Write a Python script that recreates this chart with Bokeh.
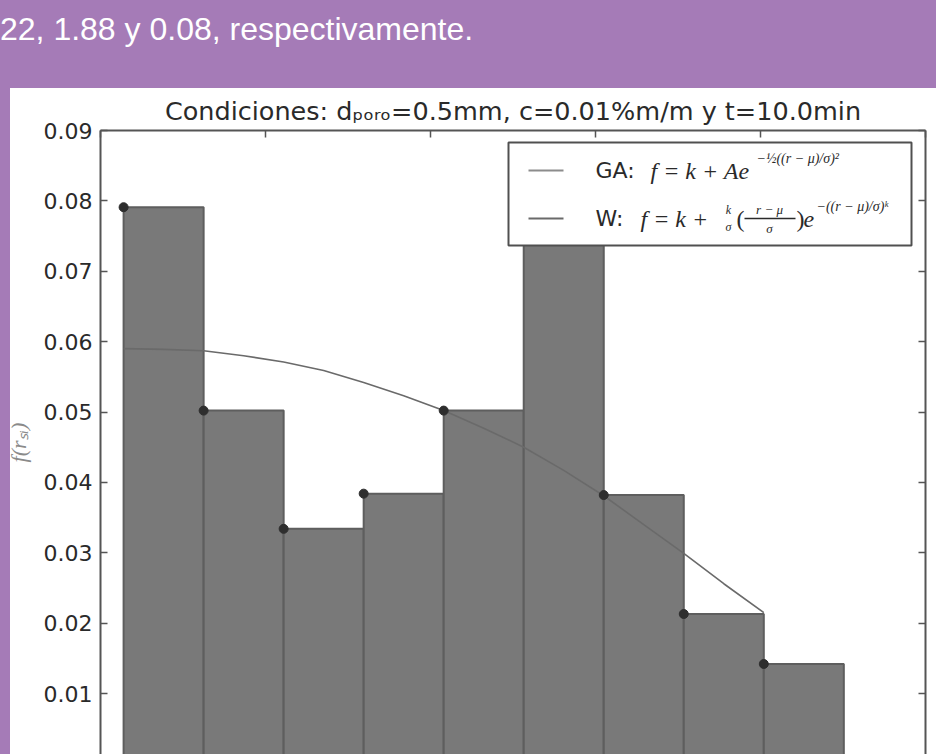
from bokeh.plotting import figure
from bokeh.models import Div, Label, LinearAxis, FixedTicker, Range1d
from bokeh.layouts import column
from bokeh.embed import file_html
from bokeh.resources import INLINE

# ---------------- data ----------------
bin_edges = [0.14, 0.625, 1.11, 1.595, 2.08, 2.565, 3.05, 3.535, 4.02, 4.505]
freq = [0.0791, 0.0502, 0.0334, 0.0384, 0.0502, 0.0800, 0.0382, 0.0213, 0.0142]
fit_r = [0.14, 0.3825, 0.625, 0.8675, 1.11, 1.3525, 1.595, 1.8375, 2.08,
         2.3225, 2.565, 2.8075, 3.05, 3.2925, 3.535, 3.7775, 4.02]
fit_f = [0.0590, 0.0589, 0.0587, 0.0580, 0.0571, 0.0559, 0.0542, 0.0523, 0.0502,
         0.0477, 0.0450, 0.0417, 0.0381, 0.0340, 0.0299, 0.0256, 0.0215]
y_ticks = [0.01, 0.02, 0.03, 0.04, 0.05, 0.06, 0.07, 0.08, 0.09]
x_ticks = [0, 1, 2, 3, 4, 5]

banner_text = "22, 1.88 y 0.08, respectivamente."
title_text = "Condiciones: dₚₒᵣₒ=0.5mm, c=0.01%m/m y t=10.0min"
y_label = "f(rₛᵢ)"

PURPLE = "#a57bb7"
TXT = "#2a2a2a"

# frame geometry helpers (reference pixels -> data), used only for the legend box
FX0, FX1 = 100.0, 925.0
X_PER_UNIT = (FX1 - FX0) / 5.0
Y0PX = 763.4
Y_PER_UNIT = 7037.5


def X(px):
    return (px - FX0) / X_PER_UNIT


def Y(py):
    return (Y0PX - py) / Y_PER_UNIT


# ---------------- banner ----------------
div = Div(
    text='<div style="white-space:nowrap;padding-top:11px">%s</div>' % banner_text,
    width=936, height=88, margin=(0, 0, 0, 0),
    styles={"background-color": PURPLE, "color": "#ffffff",
            "font-family": "'Liberation Sans', Arial, sans-serif",
            "font-size": "32px", "line-height": "1.15"},
)

# ---------------- chart ----------------
p = figure(width=936, height=666, x_range=Range1d(0, 5), y_range=Range1d(Y(754), 0.09),
           output_backend="svg", toolbar_location=None, x_axis_location=None,
           min_border_left=100, min_border_right=11, min_border_top=42, min_border_bottom=0)
p.margin = (0, 0, 0, 0)
p.styles = {"background": "linear-gradient(to right, %s 10px, #ffffff 10px)" % PURPLE}
p.outline_line_color = None
p.background_fill_color = "white"
p.border_fill_color = None
p.xgrid.visible = False
p.ygrid.visible = False

p.title.text = title_text
p.title.align = "center"
p.title.text_font = "DejaVu Sans"
p.title.text_font_size = "25.5px"
p.title.text_font_style = "normal"
p.title.text_color = TXT
p.title.standoff = 9

ya = p.yaxis[0]
ya.ticker = FixedTicker(ticks=y_ticks)
ya.major_label_text_font = "DejaVu Sans"
ya.major_label_text_font_size = "22px"
ya.major_label_text_color = TXT
ya.major_label_standoff = 8
ya.major_tick_in = 7
ya.major_tick_out = 0
ya.minor_tick_line_color = None
ya.major_tick_line_color = "#555555"
ya.major_tick_line_width = 1.5
ya.axis_line_color = "#555555"
ya.axis_line_width = 2
ya.axis_label = y_label
ya.axis_label_text_font = "Liberation Serif"
ya.axis_label_text_font_style = "italic"
ya.axis_label_text_font_size = "22px"
ya.axis_label_text_color = "#8a8a8a"
ya.axis_label_standoff = 10


def bare_axis(ticks):
    return LinearAxis(ticker=FixedTicker(ticks=ticks),
                      major_label_overrides={t: "" for t in ticks},
                      major_label_text_font_size="2px", major_label_standoff=0,
                      major_tick_in=7, major_tick_out=0,
                      minor_tick_line_color=None, major_tick_line_color="#555555",
                      major_tick_line_width=1.5, axis_line_color="#555555",
                      axis_line_width=2)


p.add_layout(bare_axis(y_ticks), "right")
p.add_layout(bare_axis(x_ticks), "above")

# histogram bars
p.quad(left=bin_edges[:-1], right=bin_edges[1:], bottom=0, top=freq,
       fill_color="#797979", line_color="#5e5e5e", line_width=2)
# fitted curve
p.line(fit_r, fit_f, line_color="#6a6a6a", line_width=1.6)
# data points at the left edge of each bin
p.scatter(bin_edges[:-1], freq, size=9, color="#2e2e2e")

# ---------------- legend (drawn by hand to mimic math text) ----------------
p.quad(left=X(508), right=X(911), bottom=Y(245), top=Y(142),
       fill_color="white", line_color="#505050", line_width=2)
p.segment(x0=X(528), x1=X(563), y0=Y(170), y1=Y(170), line_color="#8c8c8c", line_width=2)
p.segment(x0=X(528), x1=X(563), y0=Y(218), y1=Y(218), line_color="#6a6a6a", line_width=2)
p.segment(x0=X(744), x1=X(795), y0=Y(218), y1=Y(218), line_color=TXT, line_width=1.5)


def lab(px, py, text, size, font="DejaVu Sans", style="normal", align="left", base="middle", color=TXT):
    p.add_layout(Label(x=X(px), y=Y(py), text=text, text_font=font, text_font_size=size,
                       text_font_style=style, text_align=align, text_baseline=base,
                       text_color=color))


SERIF = "Liberation Serif"
lab(595, 170, "GA:", "22px")
lab(650, 171, "f = k + Ae", "24px", SERIF, "italic")
lab(756, 158, "−½((r − μ)/σ)²", "14px", SERIF, "italic")

lab(595, 218, "W:", "22px")
lab(640, 219, "f = k +", "24px", SERIF, "italic")
lab(728, 210, "k", "12px", SERIF, "italic", "center")
lab(728, 227, "σ", "12px", SERIF, "italic", "center")
lab(736, 219, "(", "24px", SERIF)
lab(769, 209, "r − μ", "13px", SERIF, "italic", "center")
lab(769, 228, "σ", "13px", SERIF, "italic", "center")
lab(796, 219, ")", "24px", SERIF)
lab(803, 219, "e", "24px", SERIF, "italic")
lab(816, 206, "−((r − μ)/σ)ᵏ", "14px", SERIF, "italic")

layout = column(div, p, spacing=0)
open("out.html", "w").write(file_html(layout, INLINE))
